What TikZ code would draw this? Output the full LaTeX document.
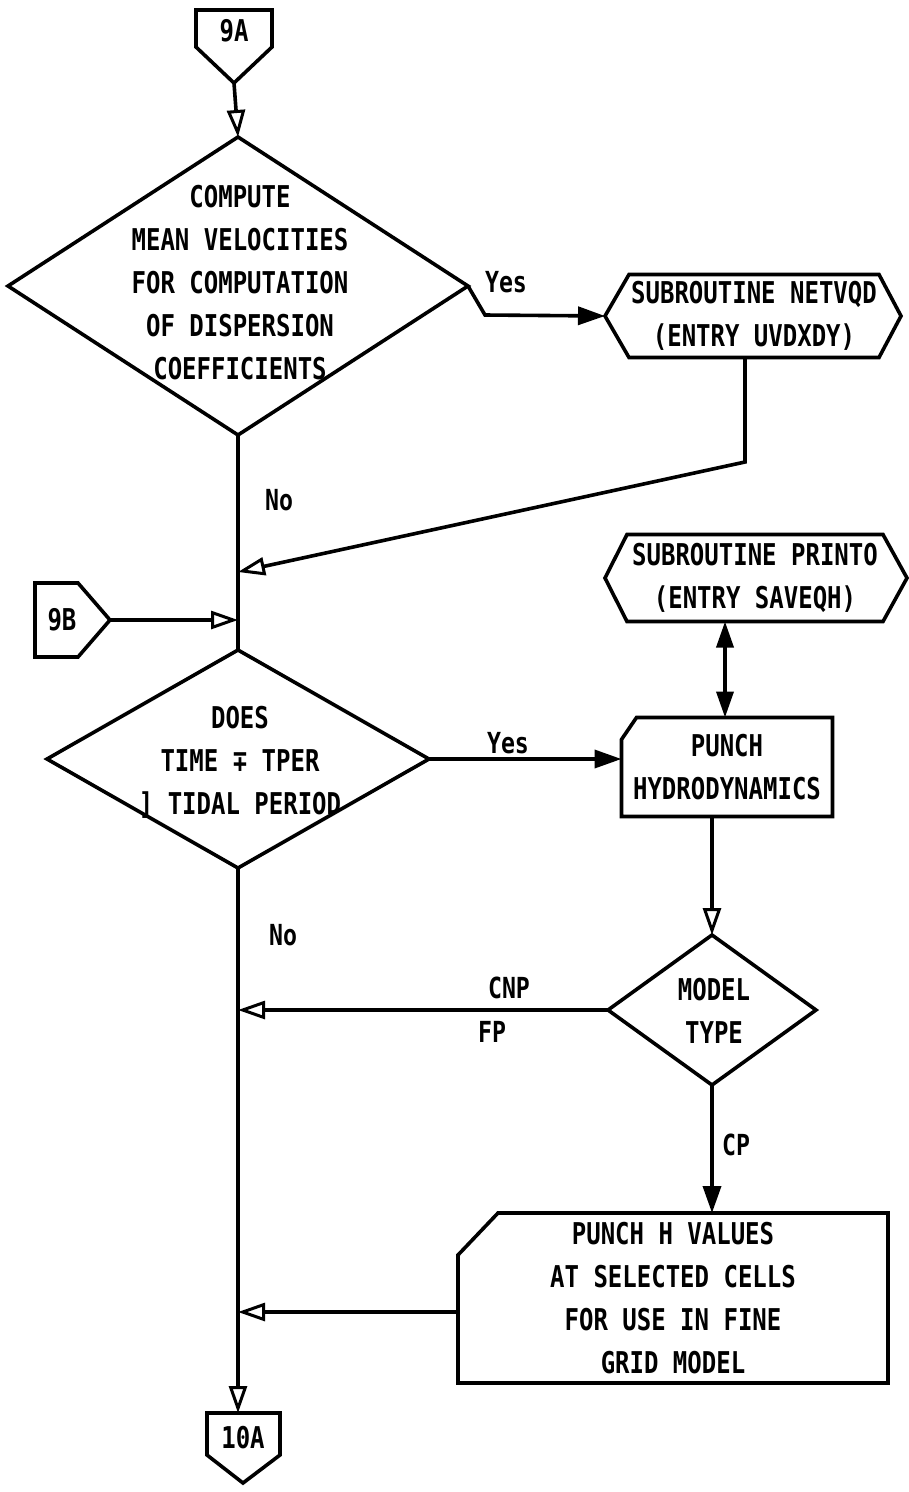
\documentclass[tikz,border=0pt]{standalone}
\usepackage{fontspec}
\setmainfont{DejaVu Sans Mono}[FakeStretch=0.8]
\usetikzlibrary{arrows.meta,shapes.geometric}

\begin{document}
\begin{tikzpicture}[x=1pt,y=-1pt,
  line width=3.6pt, line join=miter,
  every node/.style={font=\fontsize{30}{43}\selectfont\bfseries, inner sep=0pt, outer sep=0pt, align=center},
  oarr/.style={-{Triangle[open,length=27pt,width=18pt,line width=3pt]}},
  farr/.style={-{Triangle[length=27pt,width=18pt]}},
  dfarr/.style={{Triangle[length=26pt,width=17pt]}-{Triangle[length=26pt,width=17pt]}},
  lbl/.style={font=\fontsize{29}{34}\selectfont\bfseries},
  dia/.style={draw, diamond, inner sep=0pt, outer sep=0pt},
  core/.style={rectangle, inner sep=0pt, outer sep=0pt},
]
\useasboundingbox (0,0) rectangle (909,1492);

% off-page connector 9A
\node (n9a) at (234,31) {9A};
\draw (196,10) -- (272,10) -- (272,47) -- (234,83) -- (196,47) -- cycle;
\coordinate (c9a) at (234,83);

% first decision
\node[dia, minimum width=460pt, minimum height=298pt] (d1) at (238,286) {};
\node (t1) at (240,283) {COMPUTE\\MEAN VELOCITIES\\FOR COMPUTATION\\OF DISPERSION\\COEFFICIENTS};
\draw[oarr] (c9a) -- (d1.north);

% subroutine NETVQD
\node[core, minimum width=250pt, minimum height=83pt] (h1) at (754,316) {SUBROUTINE NETVQD\\(ENTRY UVDXDY)};
\draw (h1.north west) -- (h1.north east) -- ([xshift=22pt]h1.east) -- (h1.south east)
      -- (h1.south west) -- ([xshift=-24pt]h1.west) -- cycle;
\coordinate (h1w) at ([xshift=-24pt]h1.west);
\coordinate (yk) at (485,315);
\draw[farr] (d1.east) -- (yk) -- (h1w);
\node[lbl] (yes1) at (506,282) {Yes};

% return to main line
\coordinate (j1) at (745,462);
\coordinate (m1) at (238,572);
\coordinate (m2) at (238,620);
\draw[oarr] (h1.south -| j1) -- (j1) -- (m1);

% second decision
\node[dia, minimum width=382pt, minimum height=218pt] (d2) at (238,759) {};
\node (t2) at (240,762) {DOES\\TIME ∓ TPER\\] TIDAL PERIOD};
\draw (d1.south) -- (d2.north);
\node[lbl] (no1) at (279,500) {No};

% off-page connector 9B
\node (n9b) at (62,620) {9B};
\draw (35,583) -- (78,583) -- (110,620) -- (78,657) -- (35,657) -- cycle;
\coordinate (c9b) at (110,620);
\draw[oarr] (c9b) -- (m2);

% subroutine PRINTO
\node[core, minimum width=256pt, minimum height=87pt] (h2) at (755,578) {SUBROUTINE PRINTO\\(ENTRY SAVEQH)};
\draw (h2.north west) -- (h2.north east) -- ([xshift=24pt]h2.east) -- (h2.south east)
      -- (h2.south west) -- ([xshift=-22pt]h2.west) -- cycle;

% punch hydrodynamics
\node[core, minimum width=211pt, minimum height=99pt] (p1) at (727,767) {PUNCH\\HYDRODYNAMICS};
\draw ([xshift=15pt]p1.north west) -- (p1.north east) -- (p1.south east) -- (p1.south west)
      -- ([yshift=-22pt]p1.north west) -- cycle;
\draw[farr] (d2.east) -- (d2.east -| p1.west);
\node[lbl] (yes2) at (508,743) {Yes};
\draw[dfarr] (p1.north -| 725,0) -- (h2.south -| 725,0);

% model type decision
\node[dia, minimum width=208pt, minimum height=150pt] (d3) at (712,1010) {};
\node (t3) at (714,1011) {MODEL\\TYPE};
\draw[oarr] (d3.north |- p1.south) -- (d3.north);

\coordinate (m3) at (238,1010);
\draw[oarr] (d3.west) -- (m3);
\node[lbl] (cnp) at (509,988) {CNP};
\node[lbl] (fp) at (492,1032) {FP};

% punch H values
\node[core, minimum width=430pt, minimum height=170pt] (p2) at (673,1298) {PUNCH H VALUES\\AT SELECTED CELLS\\FOR USE IN FINE\\GRID MODEL};
\draw ([xshift=40pt]p2.north west) -- (p2.north east) -- (p2.south east) -- (p2.south west)
      -- ([yshift=-42pt]p2.north west) -- cycle;
\draw[farr] (d3.south) -- (d3.south |- p2.north);
\node[lbl] (cp) at (736,1145) {CP};

\coordinate (m4) at (238,1312);
\draw[oarr] (p2.west |- m4) -- (m4);

% off-page connector 10A
\coordinate (c10a) at (238,1413);
\node (n10a) at (243,1438) {10A};
\draw (207,1413) -- (280,1413) -- (280,1455) -- (243,1483) -- (207,1455) -- cycle;
\draw[oarr] (d2.south) -- (c10a);
\node[lbl] (no2) at (283,935) {No};
\end{tikzpicture}
\end{document}
